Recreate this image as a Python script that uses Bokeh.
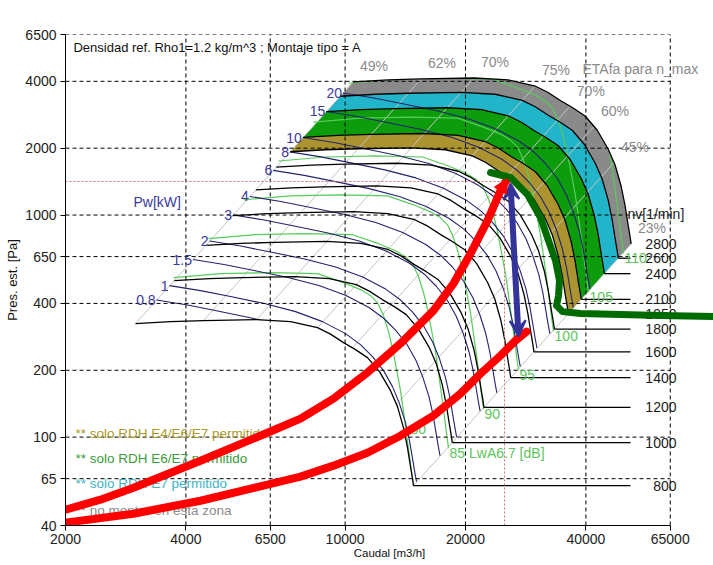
import math
from bokeh.plotting import figure
from bokeh.models import Range1d, FixedTicker, BasicTickFormatter, Arrow, VeeHead, NormalHead
from bokeh.core.properties import value
from bokeh.embed import file_html
from bokeh.resources import INLINE

FONT = "Liberation Sans"

# ---------------- data ----------------
x_ticks = [2000, 4000, 6500, 10000, 20000, 40000, 65000]
y_ticks = [40, 65, 100, 200, 400, 650, 1000, 2000, 4000, 6500]

# fan curve at the lowest speed (800 1/min), flow m3/h vs static pressure Pa
base_n = 800
base_q = [2992, 3661, 4426, 6006, 7305, 8532, 9195, 9909, 10618, 11376, 12190, 12990, 13520, 13996, 14323, 14574, 14743, 14827]
base_p = [324.4, 331.2, 334.6, 338, 331.2, 311, 290.9, 266.4, 247.7, 228.0, 197.2, 161.9, 137.2, 110.3, 89.7, 73.6, 65.0, 60.5]
speeds = [800, 1000, 1200, 1400, 1600, 1800, 1950, 2100, 2400, 2600, 2800]
speed_line_end_q = 51710

# coloured zones between speed curves
band_hi = [2800, 2600, 2400, 2100]
band_lo = [2600, 2400, 2100, 1950]
band_colors = ["#8a8a8a", "#22b4c8", "#0c9c0c", "#ab9430"]

# constant shaft power line (1 kW) and start flows of each power line
pw_base_q = [3640, 4351, 5171, 6288, 7518, 8781, 10024, 10927, 11709, 12477, 13140, 13677, 14159, 14489, 14743, 14914, 15086]
pw_base_p = [481.2, 456.8, 429.4, 399.3, 367.4, 331.2, 292.4, 261.0, 230.4, 199.3, 168.8, 141.5, 116.2, 96.4, 80.0, 70.6, 63.0]
pw_labels = ["0.8", "1", "1.5", "2", "3", "4", "6", "8", "10", "15", "20"]
pw_start_q = [3379, 3640, 4167, 4586, 5249, 5778, 6614, 7280, 7842, 8977, 9880]

# constant sound power line (80 dB) and end flows of each dB line
db_base_q = [3725, 4882, 6510, 8532, 9909, 10927, 11574, 12051, 12477, 12841, 13140, 13440, 13756, 13996, 14241, 14489, 14658, 14827]
db_base_p = [522.7, 544.9, 550.6, 544.9, 496.4, 461.6, 433.8, 403.4, 352.5, 298.6, 250.4, 203.4, 161.9, 130.2, 103.7, 81.7, 69.2, 59.8]
db_levels = ["80", "85 LwA6.7 [dB]", "90", "95", "100", "105", "110"]
db_end_q = [14827, 18140, 22190, 27140, 33200, 40610, 49680]

# efficiency (system) lines, given by their point on the 800 1/min curve
eta_q = [2992, 4426, 6006, 8532, 10430, 11980, 13440, 14827]
eta_p = [324.4, 334.6, 338, 311, 252.1, 204.5, 140.5, 60.5]
eta_labels = ["49%", "62%", "70%", "75%", "70%", "60%", "45%", "23%"]

# operating point
op_q = 25030
op_p = 1416

# hand drawn annotations
red_a_q = [2000, 2446, 2958, 4351, 6397, 7738, 9355, 11376, 13756, 16635, 18664, 20585, 22707, 24468, 25475]
red_a_p = [47.1, 52.3, 59.2, 78.3, 104.7, 121.1, 149.0, 195.2, 263.7, 371.2, 491.3, 670.6, 944.2, 1289, 1460]
red_b_q = [2000, 2958, 4351, 6397, 7738, 9355, 11376, 13756, 16635, 19433, 21810, 24468, 26676, 28420]
red_b_p = [41.2, 45.2, 51.7, 61.1, 66.4, 74.4, 85.1, 101.5, 125.0, 157.0, 193.1, 232.8, 272.0, 298.6]
green_q = [23098, 25919, 28584, 30807, 32258, 33584, 34366, 34169, 33778, 34964, 38775, 48814, 61453, 83390]
green_p = [1554, 1475, 1236, 974.3, 767.4, 623.6, 506.8, 433.8, 391.0, 367.4, 359.9, 356.2, 352.5, 348.8]
blue_q = [25919, 27140]
blue_p = [1386, 283.5]

# ---------------- figure ----------------
p = figure(width=713, height=565, x_axis_type="log", y_axis_type="log",
           x_range=Range1d(2000, 83380), y_range=Range1d(40, 6500),
           output_backend="svg", toolbar_location=None,
           min_border_left=65, min_border_right=0, min_border_top=34, min_border_bottom=40)
p.xgrid.grid_line_color = None
p.ygrid.grid_line_color = None
p.outline_line_color = None
p.background_fill_color = "white"
p.styles = {"outline": "1px solid #d6d6d6", "outline-offset": "-5px"}

for ax, ticks in ((p.xaxis[0], x_ticks), (p.yaxis[0], y_ticks)):
    ax.ticker = FixedTicker(ticks=ticks)
    ax.formatter = BasicTickFormatter(use_scientific=False)
    ax.major_tick_out = 5
    ax.major_tick_in = 0
    ax.minor_tick_line_color = None
    ax.axis_line_color = "black"
    ax.major_tick_line_color = "black"
    ax.major_label_text_font = FONT
    ax.major_label_text_font_size = "14px"
    ax.major_label_text_color = "#222222"
    ax.axis_label_text_font = FONT
    ax.axis_label_text_font_style = "normal"
    ax.axis_label_text_color = "#111111"
p.xaxis.bounds = (x_ticks[0], x_ticks[-1])
p.yaxis.major_label_standoff = 4
p.xaxis.major_label_standoff = 3
p.yaxis.axis_label = "Pres. est. [Pa]"
p.yaxis.axis_label_text_font_size = "13px"
p.yaxis.axis_label_standoff = 2
p.xaxis.axis_label = "Caudal [m3/h]"
p.xaxis.axis_label_text_font_size = "11.5px"
p.xaxis.axis_label_standoff = 0

def scaled(qs, ps, r):
    return [q * r for q in qs], [v * r * r for v in ps]

# bands
for hi, lo, col in zip(band_hi, band_lo, band_colors):
    qh, ph = scaled(base_q, base_p, hi / base_n)
    ql, pl = scaled(base_q, base_p, lo / base_n)
    p.patch(qh + ql[::-1], ph + pl[::-1], fill_color=col, line_color=None)

# efficiency lines
rmax = speeds[-1] / base_n
p.segment(x0=eta_q, y0=eta_p, x1=[q * rmax for q in eta_q], y1=[v * rmax * rmax for v in eta_p],
          line_color="#c4c4c4", line_width=1)

# dB lines
db_xs, db_ys = [], []
for eq in db_end_q:
    xs, ys = scaled(db_base_q, db_base_p, eq / db_base_q[-1])
    db_xs.append(xs); db_ys.append(ys)
p.multi_line(db_xs, db_ys, line_color="#58cc58", line_width=1.2)

# power lines
pw_xs, pw_ys = [], []
for sq in pw_start_q:
    xs, ys = scaled(pw_base_q, pw_base_p, sq / pw_base_q[0])
    pw_xs.append(xs); pw_ys.append(ys)
p.multi_line(pw_xs, pw_ys, line_color="#22226e", line_width=1.1)

# masks outside the fan field
p.patch(base_q + [base_q[-1], 1000, 1000], base_p + [10, 10, base_p[0]],
        fill_color="white", line_color=None)
q28, p28 = scaled(base_q, base_p, rmax)
p.patch(q28 + [q28[-1] * 3, q28[-1] * 3, q28[0]], p28 + [p28[-1], 20000, 20000],
        fill_color="white", line_color=None)

# dashed grid
p.segment(x0=[x_ticks[0]] * (len(y_ticks) - 1), x1=[x_ticks[-1]] * (len(y_ticks) - 1),
          y0=y_ticks[1:], y1=y_ticks[1:], line_color="black", line_dash="4 3", line_width=1)
p.segment(x0=x_ticks[1:], x1=x_ticks[1:], y0=[y_ticks[0]] * (len(x_ticks) - 1),
          y1=[y_ticks[-1]] * (len(x_ticks) - 1), line_color="black", line_dash="4 3", line_width=1)

# speed curves
sp_xs, sp_ys, h_x0, h_x1, h_y, lab_y = [], [], [], [], [], []
for n in speeds:
    xs, ys = scaled(base_q, base_p, n / base_n)
    sp_xs.append(xs); sp_ys.append(ys)
    lab_y.append(ys[-1])
    if xs[-1] < speed_line_end_q:
        h_x0.append(xs[-1]); h_x1.append(speed_line_end_q); h_y.append(ys[-1])
p.multi_line(sp_xs, sp_ys, line_color="black", line_width=1.3)
p.segment(x0=h_x0, x1=h_x1, y0=h_y, y1=h_y, line_color="black", line_width=1.3)

# operating point lines
p.segment(x0=[x_ticks[0], op_q], x1=[op_q, op_q], y0=[op_p, y_ticks[0]], y1=[op_p, op_p],
          line_color="#cc7070", line_dash="2 2", line_width=1)

fnt = value(FONT)
# speed labels
p.text(x=[67390] * len(speeds), y=lab_y, text=[str(n) for n in speeds], text_font=fnt,
       text_font_size="14px", text_color="#1a1a1a", text_align="right", text_baseline="middle")
p.text(x=[50820], y=[1015], text=["nv[1/min]"], text_font=fnt, text_font_size="14px",
       text_color="#1a1a1a", text_align="left", text_baseline="middle")

# power labels
p.text(x=pw_start_q,
       y=[pw_base_p[0] * (s / pw_base_q[0]) ** 2 for s in pw_start_q],
       text=pw_labels, text_font=fnt, text_font_size="14px", text_color="#3a3a9a",
       text_align="right", text_baseline="middle", x_offset=-1)
p.text(x=[2958], y=[1150], text=["Pw[kW]"], text_font=fnt, text_font_size="14px",
       text_color="#3a3a9a", text_align="left", text_baseline="middle")

# dB labels
db_lx = [eq * 1.006 for eq in db_end_q[1:]]
db_ly = [db_base_p[-1] * (eq / db_base_q[-1]) ** 2 * 0.95 for eq in db_end_q[1:]]
p.text(x=[14574] + db_lx, y=[109] + db_ly, text=db_levels, text_font=fnt, text_font_size="14px",
       text_color="#5cc45c", text_align="left", text_baseline="middle")

# efficiency labels
k = 1.04
p.text(x=[q * rmax * k for q in eta_q], y=[v * (rmax * k) ** 2 for v in eta_p], text=eta_labels,
       text_font=fnt, text_font_size="14px", text_color="#8a8a8a",
       text_align="left", text_baseline="bottom")
p.text(x=[39224], y=[4568], text=["ETAfa para n_max"], text_font=fnt, text_font_size="14px",
       text_color="#8a8a8a", text_align="left", text_baseline="middle")

# header and legend texts
p.text(x=[2094], y=[5680], text=["Densidad ref. Rho1=1.2 kg/m^3 ; Montaje tipo = A"], text_font=fnt,
       text_font_size="13px", text_color="#111111", text_align="left", text_baseline="middle")
p.text(x=[2118] * 4, y=[103.7, 80.0, 61.7, 46.7],
       text=["** solo RDH E4/E6/E7 permitido", "** solo RDH E6/E7 permitido",
             "** solo RDH E7 permitido", "** no montar en esta zona"],
       text_font=fnt, text_font_size="13.5px",
       text_color=["#aa9a2c", "#3c9a3c", "#3cb4c4", "#8c8c8c"],
       text_align="left", text_baseline="middle")

# annotations
p.add_layout(Arrow(start=VeeHead(size=16, fill_color="#333399", line_color="#333399", line_width=2),
                   end=VeeHead(size=16, fill_color="#333399", line_color="#333399", line_width=2),
                   x_start=blue_q[0], y_start=blue_p[0], x_end=blue_q[1], y_end=blue_p[1],
                   line_color="#333399", line_width=6))
p.line(red_a_q, red_a_p, line_color="#ff0000", line_width=8, line_cap="round")
p.line(red_b_q, red_b_p, line_color="#ff0000", line_width=8, line_cap="round")
p.add_layout(Arrow(end=NormalHead(size=14, fill_color="#ff0000", line_color="#ff0000"),
                   x_start=red_a_q[-2], y_start=red_a_p[-2], x_end=red_a_q[-1], y_end=red_a_p[-1],
                   line_color="#ff0000", line_width=8))
p.line(green_q, green_p, line_color="#006b00", line_width=7, line_cap="round", line_join="round")

open("out.html", "w").write(file_html(p, INLINE))
